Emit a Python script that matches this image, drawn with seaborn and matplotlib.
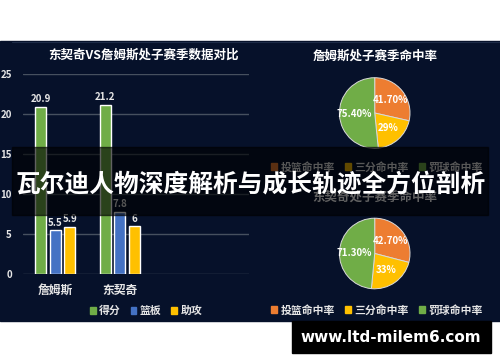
import matplotlib
matplotlib.use("Agg")
import matplotlib.pyplot as plt
import seaborn as sns
import pandas as pd
from matplotlib.patches import Rectangle, Patch
from matplotlib.lines import Line2D

# ---------------- data ----------------
players = ["詹姆斯", "东契奇"]
stats = ["得分", "篮板", "助攻"]
points = [20.9, 21.2]
rebounds = [5.5, 7.8]
assists = [5.9, 6]
yticks = [0, 5, 10, 15, 20, 25]

shot_types = ["投篮命中率", "三分命中率", "罚球命中率"]
james_pct = [41.70, 29, 75.40]
doncic_pct = [42.70, 33, 71.30]
james_pct_labels = ["41.70%", "29%", "75.40%"]
doncic_pct_labels = ["42.70%", "33%", "71.30%"]

bar_title = "东契奇VS詹姆斯处子赛季数据对比"
pie1_title = "詹姆斯处子赛季命中率"
pie2_title = "东契奇处子赛季命中率"
banner_title = "瓦尔迪人物深度解析与成长轨迹全方位剖析"
url_text = "www.ltd-milem6.com"

# ---------------- style ----------------
sns.set_style("dark")
plt.rcParams['font.family'] = ['Noto Sans CJK SC', 'DejaVu Sans']

GREEN = '#70AD47'
BLUE = '#4472C4'
YELLOW = '#FFC000'
ORANGE = '#ED7D31'
NAVY = '#06112A'
TXT = '#E6E6E6'
GRID = '#46505F'

W, H = 500, 362
fig = plt.figure(figsize=(5, 3.62), dpi=100, facecolor='white')


def fx(px):
    return px / W


def fy(py):
    return 1 - py / H


# navy panel
fig.patches.append(Rectangle((0, fy(321)), 1, (321 - 41) / H,
                             transform=fig.transFigure, color=NAVY, zorder=-2))
fig.lines.append(Line2D([fx(12), 1], [fy(41.5), fy(41.5)],
                        transform=fig.transFigure,
                        color='#1E2C48', lw=0.8, zorder=-1))

# ---------------- bar chart ----------------
ax = fig.add_axes([fx(23), fy(274.3), fx(249) - fx(23), 200 / H])
ax.set_facecolor('none')
df = pd.DataFrame({
    "球员": players * 3,
    "项目": [s for s in stats for _ in players],
    "值": points + rebounds + assists,
})
sns.barplot(data=df, x="球员", y="值", hue="项目", hue_order=stats,
            palette=[GREEN, BLUE, YELLOW], width=0.675, gap=0.24,
            saturation=1, ax=ax, legend=False, errorbar=None)
ax.set_xlim(-0.5, 3.0)
ax.set_ylim(0, 25)
ax.set_yticks(yticks)
ax.set_xlabel("")
ax.set_ylabel("")
ax.grid(axis='y', color=GRID, lw=1)
ax.grid(axis='x', visible=False)
ax.set_axisbelow(True)
for s in ax.spines.values():
    s.set_visible(False)
ax.tick_params(axis='y', length=0, pad=8, labelsize=7, labelcolor=TXT)
ax.tick_params(axis='x', length=0, pad=7, labelsize=8.5, labelcolor=TXT)
for t in ax.get_yticklabels() + ax.get_xticklabels():
    t.set_fontweight('bold')
for cont in ax.containers:
    ax.bar_label(cont, fmt='%g', padding=2, color=TXT, fontsize=7,
                 fontweight='bold')

fig.text(fx(144), fy(55), bar_title, ha='center', va='center', color='white',
         fontsize=9, fontweight='bold')

fig.legend(handles=[Patch(color=c, label=l) for c, l in zip([GREEN, BLUE, YELLOW], stats)],
           loc='center', bbox_to_anchor=(fx(146), fy(311)), ncol=3, frameon=False,
           handlelength=0.55, handleheight=0.55, handletextpad=0.3,
           columnspacing=0.9, prop={'size': 7.8, 'weight': 'bold'},
           labelcolor=TXT, borderpad=0.1)

# ---------------- pies ----------------
PIE_COLORS = [ORANGE, YELLOW, GREEN]


def draw_pie(cx, cy, vals, labels, title, title_y, legend_y):
    pax = fig.add_axes([fx(cx - 36), fy(cy + 36), 72 / W, 72 / H])
    pax.set_facecolor('none')
    wedges, texts = pax.pie(vals, labels=labels, colors=PIE_COLORS,
                            startangle=90, counterclock=False,
                            labeldistance=0.58,
                            wedgeprops=dict(edgecolor='#D9D9D9', linewidth=0.7),
                            textprops=dict(color='white', fontsize=7,
                                           fontweight='bold'))
    for t in texts:
        t.set_horizontalalignment('center')
        t.set_verticalalignment('center')
    pax.set_xlim(-1.02, 1.02)
    pax.set_ylim(-1.02, 1.02)
    pax.axis('off')
    fig.text(fx(375), fy(title_y), title, ha='center', va='center',
             color='white', fontsize=9, fontweight='bold')
    fig.legend(handles=[Patch(color=c, label=l) for c, l in zip(PIE_COLORS, shot_types)],
               loc='center', bbox_to_anchor=(fx(377), fy(legend_y)), ncol=3,
               frameon=False, handlelength=0.55, handleheight=0.55,
               handletextpad=0.3, columnspacing=0.95, borderpad=0.05,
               prop={'size': 7.8, 'weight': 'bold'}, labelcolor=TXT)


draw_pie(374.7, 113, james_pct, james_pct_labels, pie1_title, 56, 167)
draw_pie(374.7, 253.5, doncic_pct, doncic_pct_labels, pie2_title, 197, 310)

# ---------------- banner overlay ----------------
fig.patches.append(Rectangle((fx(12), fy(215)), (488 - 12) / W, (215 - 147) / H,
                             transform=fig.transFigure, color='black',
                             alpha=0.62, zorder=10))
fig.text(fx(251), fy(185), banner_title, ha='center', va='center',
         color='white', fontsize=17.8, fontweight='bold', zorder=11)

# ---------------- url box ----------------
fig.patches.append(Rectangle((fx(292), fy(353)), (491 - 292) / W, (353 - 321) / H,
                             transform=fig.transFigure, color='black', zorder=10))
fig.text(fx(391), fy(337), url_text, ha='center', va='center', color='white',
         fontsize=11, fontweight='bold', zorder=11, family='DejaVu Sans')

fig.savefig("out.png", dpi=100, facecolor='white')
